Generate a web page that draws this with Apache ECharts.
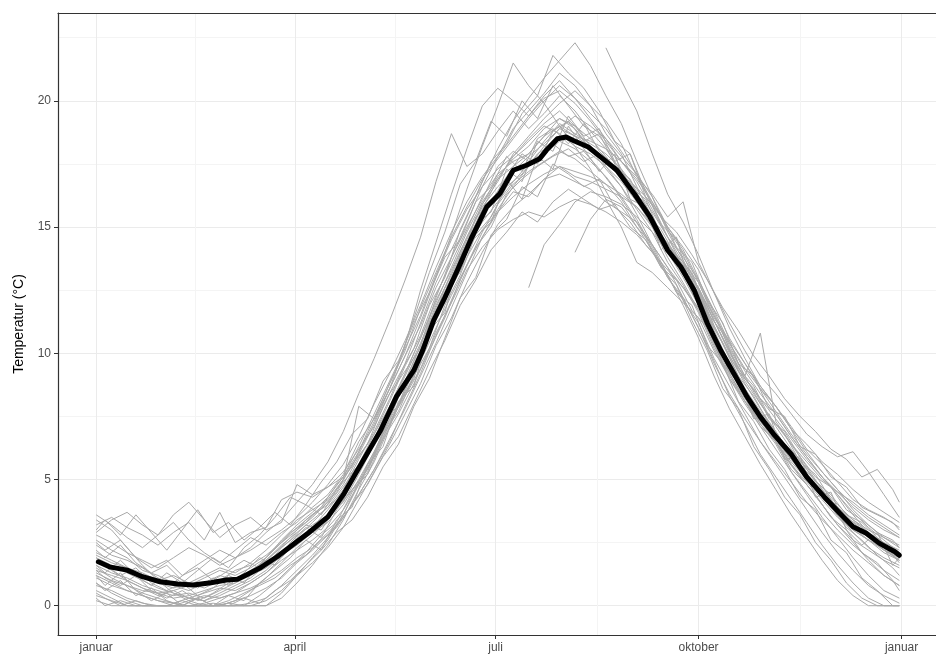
<!DOCTYPE html>
<html>
<head>
<meta charset="utf-8">
<script src="https://cdn.jsdelivr.net/npm/echarts@6/dist/echarts.min.js"></script>
<style>html,body{margin:0;padding:0;background:#fff}#c{width:936px;height:660px}</style>
</head>
<body>
<div id="c"></div>
<script>
// x tick positions (day of year) and labels
const xTickDays = [0, 90, 181, 273, 365];
const xTickLabels = ['januar', 'april', 'juli', 'oktober', 'januar'];
const xMinorDays = [45, 135.5, 227, 319];
const yTicks = [0, 5, 10, 15, 20];
const yMinor = [2.5, 7.5, 12.5, 17.5, 22.5];

// sample days for the yearly grey lines (two sampling schemes)
const days = [0,7,14,21,28,35,42,49,56,63,70,77,84,91,98,105,112,119,126,133,140,147,154,161,168,175,182,189,196,203,210,217,224,231,238,245,252,259,266,273,280,287,294,301,308,315,322,329,336,343,350,357,364];
const days2 = [0,4,11,18,25,32,39,46,53,60,67,74,81,88,95,102,109,116,123,130,137,144,151,158,165,172,179,186,193,200,207,214,221,228,235,242,249,256,263,270,277,284,291,298,305,312,319,326,333,340,347,354,361,364];

const yearA = [0.4,0.2,0,0,0,0,0,0,0,0,0.1,0.3,0.8, 1.4,2.0,2.7,3.6,4.9,6.1,7.4,8.9,10.3,12.2, 13.8,15.2,16.6,17.8,18.9,19.6,20.3,21.1,20.6,19.8, 19.2,18.3,17.0,15.9,14.6,13.4,12.3,10.9,9.6,8.3, 7.2,6.4,5.3,4.4,3.5,2.7,1.9,1.2,0.6,0.3];
const yearB = [3.2,3.5,3.1,2.8,2.4,2.9,3.3,2.6,3.7,2.5,2.9,3.1,4.2, 4.5,4.3,4.7,5.3,6.2,7.1,8.4,9.3,10.2,11.5, 12.6,13.8,14.9,15.6,16.4,16.2,16.9,17.4,17.0,16.8, 16.5,16.2,15.8,15.0,14.2,13.6,12.8,11.4,10.5,9.6, 8.7,7.9,7.1,6.2,5.6,4.9,4.2,3.8,3.5,3.1];
const yearC = [1.8,1.4,1.0,0.7,0.4,0.6,0.3,0.2,0.5,0.8,1.1,1.6,2.3, 2.8,3.2,3.6,4.1,5.2,6.4,7.9,9.1,10.4,11.9, 13.1,14.5,15.9,16.8,17.9,18.6,19.3,19.9,20.4,19.8, 18.7,17.9,16.6,15.3,14.0,13.1,12.4,10.8,9.2,8.1, 7.3,6.5,5.4,4.8,4.0,3.2,2.6,2.2,1.8,1.5];
const yearD = [2.6,2.2,1.9,1.4,1.2,0.9,1.4,1.8,2.2,1.9,2.3,2.9,3.4, 4.1,4.8,5.7,6.9,8.4,9.8,11.3,12.9,14.6,16.8, 18.7,17.4,17.9,18.8,19.6,18.9,19.5,20.2,19.6,18.8, 18.1,17.2,16.4,15.1,14.2,13.5,12.6,11.3,10.1,9.0, 8.2,7.4,6.6,5.8,5.1,4.5,3.9,3.4,3.0,2.7];
const yearE = [0.9,0.5,0.2,0,0,0,0,0,0,0,0,0.2,0.6, 1.2,1.7,2.3,3.1,4.2,5.3,6.4,7.6,8.8,10.3, 11.4,12.8,14.0,15.1,15.8,16.3,16.9,17.1,16.8,16.5, 16.0,15.6,15.2,14.3,13.4,12.2,11.0,9.7,8.3,7.2, 6.0,5.1,4.2,3.3,2.4,1.6,0.9,0.3,0,0];
const yearF = [2.9,3.4,3.7,3.2,2.8,3.6,4.1,3.4,2.7,3.2,3.5,3.0,3.3, 4.8,4.4,4.7,5.1,6.1,7.3,8.6,9.9,11.1,12.6, 13.8,15.0,16.1,17.4,18.0,17.6,18.4,19.1,18.7,18.3, 17.9,17.3,16.5,15.6,14.6,13.8,12.9,11.7,10.4,9.4, 8.6,7.9,7.0,6.4,5.7,5.2,4.6,4.1,3.7,3.3];
const yearG = [1.2,0.9,0.6,0.4,0.2,0,0,0.1,0.3,0.5,0.9,1.3,1.9, 2.6,3.1,3.8,4.6,5.8,6.9,8.2,9.6,11.2,12.8, 14.1,15.4,16.8,18.1,19.2,20.1,20.9,21.6,22.3,21.4, 20.2,19.1,17.6,16.2,14.8,13.7,12.5,11.1,9.8,8.6, 7.6,6.8,5.9,5.1,4.3,3.6,2.9,2.3,1.9,1.6];
const yearH = [1.5,1.1,0.8,0.5,0.3,0.1,0,0,0,0.2,0.4,0.7,1.1, 1.7,2.2,2.8,3.5,4.4,5.4,6.6,7.8,9.1,10.4, 11.8,13.2,14.6,15.7,16.6,17.4,18.2,18.9,19.4,19.0, 18.5,17.8,17.1,16.2,15.0,14.1,12.9,11.6,10.3,9.1, 8.0,7.1,6.2,5.4,4.6,3.9,3.3,2.8,2.3,1.9];
const yearI = [2.1,1.8,1.5,1.3,1.0,1.2,0.9,0.7,1.0,1.4,1.6,2.0,2.5, 3.1,3.6,4.0,4.8,5.9,6.8,7.9,9.2,10.6,12.1, 13.3,14.6,15.8,16.6,17.2,17.8,18.3,18.9,18.6,18.4, 18.1,17.6,17.0,16.3,15.4,16.0,13.6,12.4,11.2,10.1, 9.1,8.4,7.6,6.8,6.3,5.9,6.1,5.3,4.4,3.5];
const yearJ = [0.6,0.3,0,0,0,0,0,0,0,0,0,0,0.3, 0.9,1.6,2.4,3.4,4.6,5.7,7.1,8.5,10.0,11.4, 12.7,14.2,15.2,16.0,16.8,17.5,17.9,18.4,18.1,17.6, 17.0,16.2,15.3,14.2,13.0,12.1,11.2,9.8,8.7,7.6, 6.5,5.6,4.7,3.8,2.9,2.1,1.4,0.8,0.4,0.1];
const yearK = [2.4,2.0,1.8,1.5,1.1,0.8,0.6,0.9,1.2,1.0,1.4,1.8,2.4, 2.9,3.4,3.9,4.7,5.6,6.8,8.1,9.5,10.7,12.3, 13.6,14.9,16.2,17.1,17.6,17.9,18.6,19.3,18.9,18.1, 17.3,16.6,15.7,14.8,13.6,12.7,11.6,10.2,9.0,8.0, 7.1,6.5,5.6,4.9,4.2,3.5,3.0,2.6,2.1,1.8];
const yearL = [1.3,1.0,0.8,0.6,0.5,0.3,0.4,0.6,0.8,0.9,1.2,1.5,2.0, 2.4,2.9,3.3,4.0,5.0,6.1,7.3,8.3,9.4,10.8, 12.0,13.3,14.2,14.9,15.3,15.6,15.4,15.8,16.1,15.9, 15.6,15.2,14.7,14.0,13.3,12.6,11.8,10.7,9.6,8.6, 7.7,6.9,6.0,5.2,4.5,3.8,3.2,2.7,2.2,1.8];
const yearM = [3.6,3.2,2.7,2.3,2.8,3.3,2.6,2.1,1.7,2.2,2.7,2.4,2.9, 3.3,3.9,4.4,5.2,6.5,7.4,8.8,10.1,11.8,13.2, 14.6,15.8,16.9,17.7,18.5,19.3,20.0,20.6,20.1,19.5, 18.9,18.0,17.1,16.0,14.9,14.0,12.8,11.5,10.2,9.1, 10.8,7.3,6.4,5.5,4.6,3.9,3.1,2.6,2.3,2.0];
const yearN = [0.2,0,0,0,0,0,0,0,0,0,0,0,0.5, 1.2,1.9,2.6,3.6,4.8,6.0,7.2,8.6,10.1,11.7, 13.0,14.4,15.7,16.9,17.8,18.5,19.1,19.6,19.0,18.2, 17.4,16.6,15.5,14.3,13.1,11.9,10.6,9.1,7.8,6.7, 5.6,4.6,3.6,2.7,1.8,1.0,0.4,0,0,0];
const yearO = [1.6,1.3,1.1,0.8,0.6,0.4,0.5,0.3,0.6,0.9,1.3,1.9,2.6, 3.2,3.7,4.3,5.1,6.3,7.6,8.9,10.2,11.5,13.1, 14.5,15.7,16.6,17.3,17.8,18.4,19.0,18.7,18.2,17.9, 17.4,16.8,16.0,15.1,14.0,13.0,11.9,10.4,9.2,8.2, 7.4,6.6,5.8,5.0,4.3,3.6,3.0,2.6,2.2,1.9];
const yearP = [2.0,1.7,1.5,1.2,0.9,0.7,0.9,1.2,1.5,1.3,1.7,2.2,2.8, 3.4,3.8,4.2,5.0,6.0,7.2,8.6,9.9,11.4,13.0, 14.7,16.5,18.2,19.8,21.5,20.6,19.9,19.0,18.2,17.3, 16.1,15.0,13.6,13.2,12.6,12.0,11.4,10.1,9.0,8.1, 7.2,6.5,5.7,5.0,4.4,3.9,3.4,3.0,2.7,2.4];
const yearQ = [1.4,1.2,1.0,0.7,0.5,0.6,0.8,1.1,1.4,1.2,1.5,1.9,2.5, 3.0,3.5,4.1,5.0,7.9,7.4,8.6,10.3,12.5,14.4, 16.3,18.1,19.8,20.5,20.0,19.4,20.2,20.8,20.1,19.3, 18.5,17.6,16.8,15.7,14.6,13.6,12.5,11.1,9.9,8.8, 7.8,6.9,6.0,5.3,4.7,4.0,3.4,2.9,2.5,2.2];
const yearR = [1.1,0.8,0.6,0.4,0.2,0.1,0.3,0.5,0.7,0.6,0.9,1.3,1.8, 2.2,2.6,3.1,3.8,4.8,5.9,7.2,8.4,9.7,11.0, 12.3,13.5,14.6,15.6,16.2,16.7,17.1,17.4,17.2,17.0, 16.7,16.3,15.8,15.1,14.3,13.5,12.6,11.3,10.0,9.0, 8.2,7.6,6.7,5.9,5.1,4.4,3.7,3.1,2.6,2.1];
const yearS = [2.8,2.5,2.1,1.8,1.5,1.9,2.3,2.0,1.6,1.9,2.2,2.6,3.0, 3.5,4.1,4.8,5.6,6.7,8.0,9.2,10.5,11.9,13.4, 14.8,16.0,17.0,17.8,18.6,19.4,20.1,20.4,19.9,19.2, 18.4,17.6,16.9,16.0,15.0,14.2,13.3,11.9,10.6,9.6, 8.6,7.7,6.8,6.0,5.3,4.6,4.0,3.5,3.1,2.7];
const yearT = [0.8,0.6,0.3,0.1,0,0,0.2,0.4,0.3,0.5,0.7,1.0,1.4, 1.9,2.3,2.9,3.5,4.4,5.4,6.5,7.9,9.2,10.7, 12.1,13.5,14.8,15.9,16.7,17.2,17.6,18.0,17.7,17.2, 16.7,16.0,15.0,14.1,13.0,12.2,11.0,9.6,8.4,7.4, 6.5,5.7,4.9,4.1,3.4,2.8,2.2,1.7,1.2,0.8];
const yearU = [1.9,1.6,1.3,1.0,0.7,0.5,0.3,0.2,0.4,0.7,1.0,1.4,2.0, 2.7,3.3,3.9,4.5,5.5,6.6,7.9,9.2,10.6,12.0, 13.4,14.8,16.0,16.9,17.4,17.9,18.6,19.0,18.6,18.2, 17.6,16.9,16.1,15.2,14.2,13.3,12.4,11.0,9.9,8.9, 8.0,7.2,6.4,5.7,5.0,4.5,4.1,3.6,3.2,2.8];
const yearV = [3.4,3.0,2.3,1.6,1.0,0.5,0.2,0,0,0.2,0.6,1.1,1.7, 2.3,2.8,3.4,4.2,5.4,6.5,7.7,8.9,10.3,11.8, 13.2,14.6,15.9,17.0,17.7,18.2,18.9,19.3,19.0,18.5, 17.8,17.0,16.1,15.0,13.8,12.8,11.7,10.3,9.1,8.1, 7.1,6.2,5.3,4.5,3.7,3.0,2.4,1.9,1.4,1.0];

// years sampled on days2
const year2a = [1.2,0.8,1.3,0.6,0.2,0.5,0,0.3,0,0.4,0.2,0.9,1.4,1.9, 2.6,2.2,3.4,3.9,5.6,6.3,8.1,8.7,10.9,11.6, 13.9,14.6,15.2,16.9,16.1,17.8,17.3,19.0,18.1,17.2, 17.9,16.1,15.8,14.1,14.6,12.4,11.6,9.5,9.0,7.4, 7.6,5.8,5.9,4.3,4.5,3.0,2.4,2.9,1.6,1.9];
const year2b = [3.0,3.4,2.8,3.6,2.9,2.2,3.0,3.8,2.9,3.3,2.6,3.1,3.7,3.2, 4.0,3.6,4.6,5.3,5.9,7.4,7.9,9.6,10.8,12.6, 13.2,15.1,15.6,17.3,16.8,18.4,18.0,19.4,18.6,18.9, 17.6,17.9,16.2,15.5,14.2,13.6,12.1,11.2,9.6,9.1, 7.8,7.5,6.3,6.0,5.1,4.7,3.9,3.6,3.3,3.0];
const year2c = [0.5,0.3,0,0.2,0,0,0,0,0.1,0,0.3,0.1,0.6,1.0, 1.6,2.2,2.9,3.4,4.3,5.5,6.4,7.9,9.0,10.6, 12.2,13.0,14.7,15.3,16.6,16.2,17.5,17.1,16.6,16.9, 15.8,15.2,14.3,13.6,12.4,11.9,10.3,9.6,8.1,7.3, 6.2,5.4,4.3,3.8,2.6,2.1,1.1,0.6,0,0];
const year2d = [1.9,1.6,1.2,1.5,0.9,0.6,0.9,0.4,0.7,1.2,0.9,1.6,2.3,2.9, 3.3,3.9,4.5,5.6,6.4,7.9,9.1,10.2,11.9,13.0, 14.9,16.2,17.6,18.3,19.5,20.2,21.8,21.1,20.5,19.6, 18.4,17.9,16.4,15.1,14.5,13.1,11.8,10.6,9.4,8.7, 7.5,6.8,5.7,5.2,4.2,3.5,3.1,2.4,2.0,1.7];
const year2e = [2.5,2.2,2.6,1.9,1.5,1.8,1.2,1.5,1.0,1.4,1.8,1.5,2.1,2.6, 3.2,3.0,3.9,4.6,5.2,6.6,7.6,8.8,10.1,11.4, 12.9,14.2,15.0,16.3,16.9,17.4,17.8,18.1,17.6,17.9, 17.2,16.8,16.2,15.4,14.8,13.9,12.9,11.8,10.9,9.9, 9.1,8.2,7.5,6.9,6.2,5.8,5.1,5.4,4.6,4.1];
const year2f = [1.6,1.3,1.8,1.2,0.8,1.3,0.9,1.4,1.9,1.5,2.3,2.8,3.5,4.3, 4.0,4.9,5.7,6.8,7.4,8.9,9.7,11.2,12.4,13.8, 14.5,16.0,16.6,17.8,17.2,18.5,18.9,18.3,19.1,18.0, 17.4,16.9,15.6,14.9,13.8,12.9,11.5,10.4,9.1,8.3, 7.2,6.4,5.8,4.9,4.4,3.6,3.3,2.7,2.2,1.9];
const year2g = [0.9,0.6,1.0,0.4,0.7,0.2,0,0.3,0,0.2,0.5,0.8,1.1,1.6, 2.0,2.6,3.1,4.0,4.8,5.9,6.7,8.0,9.3,10.5, 11.9,12.9,14.1,14.8,15.6,15.2,16.0,16.5,16.1,15.7, 15.9,15.0,14.5,13.4,12.9,11.7,11.0,9.6,8.8,7.6, 6.9,5.9,5.1,4.4,3.5,3.0,2.1,1.7,1.0,0.6];
const year2h = [2.2,1.9,2.4,1.7,1.3,1.6,1.0,0.7,1.1,0.8,1.3,1.9,1.6,2.5, 3.1,2.7,3.8,4.6,5.4,6.9,8.0,9.0,11.2,12.0, 13.5,15.4,16.0,17.0,17.9,17.5,18.8,19.2,18.4,18.7, 17.5,16.6,16.1,14.7,13.9,13.2,11.6,10.8,9.3,8.6, 7.4,6.9,5.9,5.1,4.7,3.8,3.4,2.9,2.6,2.3];
const year2i = [1.4,1.1,0.8,1.2,0.6,0.3,0.6,0.2,0.5,0.9,1.2,1.6,2.1,2.7, 3.4,3.9,4.8,5.5,6.9,8.2,9.6,11.4,13.2,14.8, 16.7,17.6,19.2,18.6,20.0,19.3,20.6,19.8,19.0,18.6, 17.8,16.6,15.9,14.7,13.8,12.6,11.4,10.0,9.0,7.9, 7.0,6.1,5.4,4.6,3.9,3.1,2.6,2.0,1.5,1.2];
const year2j = [0.3,0,0.2,0,0,0,0.2,0,0,0.1,0,0.4,0.9,1.5, 2.1,2.8,3.3,4.5,5.3,6.8,7.7,9.1,10.2,11.9, 13.1,14.7,15.4,16.6,17.1,17.9,18.3,17.8,18.0,17.3, 16.5,15.6,14.6,13.4,12.7,11.3,10.1,8.6,7.8,6.3, 5.4,4.3,3.6,2.5,1.8,0.9,0.3,0,0,0];

// partial years: first sampled day (on days) and values from there on
const partW = { start: 196, values: [12.6,14.3,15.1,16.0,16.4,16.2,15.9,15.4,14.8,14.0,13.3,12.5,11.5,10.4,9.3,8.4,7.6,6.7,5.9,5.1,4.4,3.6,2.9,2.3,1.8] };
const partX = { start: 231, values: [22.1,20.8,19.6,17.9,16.3,15.2,13.9,12.4,11.0,9.8,8.7,7.9,7.0,6.1,5.3,4.6,3.8,3.2,2.7,2.3] };
const partY = { start: 217, values: [14.0,15.3,16.1,15.8,15.0,14.3,13.4,12.6,11.7,10.5,9.4,8.3,7.4,6.5,5.6,4.8,4.0,3.2,2.5,1.8,1.2,0.8] };

// mean curve
const meanDays = [1,6,14,21,29,37,44,52,59,64,68,74,82,90,96,105,112,120,129,136,144,148,153,158,164,170,177,183,189,195,201,204,209,213,216,223,229,236,244,251,259,265,271,277,283,289,295,301,307,315,322,330,337,343,349,355,362,364];
const meanVals = [1.74,1.54,1.41,1.15,0.95,0.86,0.82,0.91,1.02,1.05,1.22,1.48,1.94,2.47,2.87,3.52,4.4,5.6,6.96,8.27,9.33,10.12,11.31,12.2,13.35,14.55,15.8,16.33,17.25,17.45,17.71,18.04,18.5,18.57,18.44,18.17,17.75,17.25,16.3,15.4,14.08,13.42,12.5,11.18,10.12,9.2,8.27,7.48,6.8,6.0,5.1,4.31,3.66,3.13,2.87,2.47,2.14,2.0];

const fullYears = [yearA,yearB,yearC,yearD,yearE,yearF,yearG,yearH,yearI,yearJ,yearK,yearL,yearM,yearN,yearO,yearP,yearQ,yearR,yearS,yearT,yearU,yearV];
const fullYears2 = [year2a,year2b,year2c,year2d,year2e,year2f,year2g,year2h,year2i,year2j];
const partYears = [partW, partX, partY];

const FONT = "'Liberation Sans', Arial, sans-serif";
const GREY = {color:'#A9A9A9', width:1};
const series = [];
fullYears.forEach(v => {
  series.push({type:'line', data: days.map((d,i)=>[d, v[i]]), showSymbol:false, silent:true, lineStyle:GREY, z:3});
});
fullYears2.forEach(v => {
  series.push({type:'line', data: days2.map((d,i)=>[d, v[i]]), showSymbol:false, silent:true, lineStyle:GREY, z:3});
});
partYears.forEach(p => {
  const s = days.indexOf(p.start);
  series.push({type:'line', data: p.values.map((v,i)=>[days[s+i], v]), showSymbol:false, silent:true, lineStyle:GREY, z:3});
});
series.push({type:'line', data: meanDays.map((d,i)=>[d, meanVals[i]]), showSymbol:false, silent:true,
  lineStyle:{color:'#000', width:5, cap:'round', join:'round'}, z:5});

const XMIN = -17.3, XMAX = 380.6, YMIN = -1.16, YMAX = 23.48;
const chart = echarts.init(document.getElementById('c'), null, {renderer:'canvas'});
chart.setOption({
  animation:false,
  backgroundColor:'#fff',
  grid:{left:58, top:13, right:0, height:622, show:false, containLabel:false},
  xAxis:[{
    type:'value', min:XMIN, max:XMAX, position:'bottom',
    axisLine:{show:true, onZero:false, lineStyle:{color:'#333', width:1.2}},
    axisTick:{show:true, length:4, lineStyle:{color:'#333'}, customValues:xTickDays},
    axisLabel:{customValues:xTickDays, color:'#4D4D4D', fontSize:12, fontFamily:FONT, margin:7,
      formatter:(v)=>xTickLabels[xTickDays.indexOf(v)]},
    splitLine:{show:true, lineStyle:{color:'#EBEBEB', width:1}}
  },{
    type:'value', min:XMIN, max:XMAX, position:'top',
    axisLine:{show:true, onZero:false, lineStyle:{color:'#333', width:1.2}},
    axisTick:{show:false, customValues:xMinorDays},
    axisLabel:{show:false, customValues:xMinorDays},
    splitLine:{show:true, lineStyle:{color:'#F4F4F4', width:1}}
  }],
  yAxis:[{
    type:'value', min:YMIN, max:YMAX,
    name:'Temperatur (°C)', nameLocation:'middle', nameRotate:90, nameGap:32,
    nameTextStyle:{color:'#000', fontSize:14, fontFamily:FONT},
    axisLine:{show:true, onZero:false, lineStyle:{color:'#333', width:1.2}},
    axisTick:{show:true, length:4, lineStyle:{color:'#333'}, customValues:yTicks},
    axisLabel:{customValues:yTicks, color:'#4D4D4D', fontSize:12, fontFamily:FONT, margin:7},
    splitLine:{show:true, lineStyle:{color:'#EBEBEB', width:1}}
  },{
    type:'value', min:YMIN, max:YMAX, position:'right',
    axisLine:{show:false}, axisTick:{show:false, customValues:yMinor},
    axisLabel:{show:false, customValues:yMinor},
    splitLine:{show:true, lineStyle:{color:'#F4F4F4', width:1}}
  }],
  series: series
});
</script>
</body>
</html>
